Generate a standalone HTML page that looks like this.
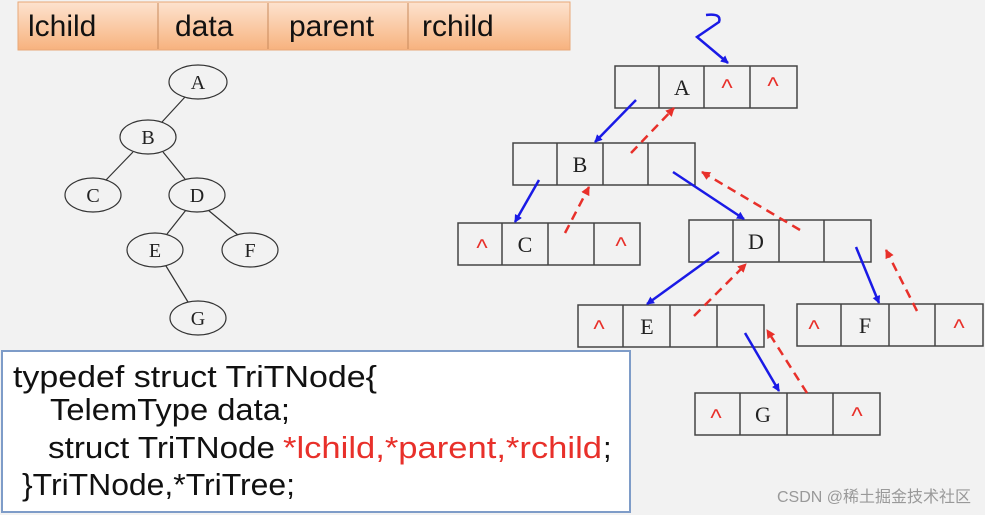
<!DOCTYPE html>
<html><head><meta charset="utf-8"><style>
html,body{margin:0;padding:0;background:#f2f2f2;}
svg{display:block}
</style></head><body>
<svg width="985" height="515" viewBox="0 0 985 515" xmlns="http://www.w3.org/2000/svg">
<defs>
<linearGradient id="og" x1="0" y1="0" x2="0" y2="1">
<stop offset="0" stop-color="#fde3cf"/><stop offset="1" stop-color="#f7b27e"/>
</linearGradient>
<marker id="ab" markerWidth="8" markerHeight="8" refX="7" refY="4" orient="auto" markerUnits="userSpaceOnUse"><path d="M0,0 L8,4 L0,8 z" fill="#1a1ae6"/></marker>
<marker id="ar" markerWidth="9" markerHeight="9" refX="8" refY="4.5" orient="auto" markerUnits="userSpaceOnUse"><path d="M0,0 L9,4.5 L0,9 z" fill="#e8302a"/></marker>
</defs>
<rect width="985" height="515" fill="#f2f2f2"/>
<!-- header bar -->
<rect x="18" y="2" width="552" height="48" fill="url(#og)" stroke="#e8a878" stroke-width="1"/>
<g stroke="#c98a5c" stroke-width="1"><line x1="158" y1="3" x2="158" y2="49"/><line x1="268" y1="3" x2="268" y2="49"/><line x1="408" y1="3" x2="408" y2="49"/></g>
<g font-family="Liberation Sans, sans-serif" font-size="30" fill="#111">
<text x="28" y="36">lchild</text><text x="175" y="36">data</text><text x="289" y="36">parent</text><text x="422" y="36">rchild</text>
</g>
<!-- left tree -->
<g stroke="#333" stroke-width="1.2">
<line x1="185" y1="97" x2="162" y2="122"/>
<line x1="133" y1="152" x2="106" y2="180"/>
<line x1="163" y1="152" x2="185" y2="179"/>
<line x1="186" y1="210" x2="167" y2="234"/>
<line x1="208" y1="210" x2="238" y2="235"/>
<line x1="166" y1="266" x2="188" y2="302"/>
</g>
<g fill="#f2f2f2" stroke="#333" stroke-width="1.2">
<ellipse cx="198" cy="82" rx="29" ry="17"/>
<ellipse cx="148" cy="137" rx="28" ry="17"/>
<ellipse cx="93" cy="195" rx="28" ry="17"/>
<ellipse cx="197" cy="195" rx="28" ry="17"/>
<ellipse cx="155" cy="250" rx="28" ry="17"/>
<ellipse cx="250" cy="250" rx="28" ry="17"/>
<ellipse cx="198" cy="318" rx="28" ry="17"/>
</g>
<g font-family="Liberation Serif, serif" font-size="20" fill="#222" text-anchor="middle">
<text x="198" y="89">A</text><text x="148" y="144">B</text><text x="93" y="202">C</text><text x="197" y="202">D</text><text x="155" y="257">E</text><text x="250" y="257">F</text><text x="198" y="325">G</text>
</g>
<!-- node boxes -->
<g fill="none" stroke="#444" stroke-width="1.5">
<rect x="615" y="66" width="182" height="42"/><path d="M659,66V108M704,66V108M750,66V108"/>
<rect x="513" y="143" width="182" height="42"/><path d="M557,143V185M603,143V185M648,143V185"/>
<rect x="458" y="223" width="182" height="42"/><path d="M502,223V265M548,223V265M594,223V265"/>
<rect x="689" y="220" width="182" height="42"/><path d="M733,220V262M779,220V262M824,220V262"/>
<rect x="578" y="305" width="186" height="42"/><path d="M623,305V347M670,305V347M717,305V347"/>
<rect x="797" y="304" width="186" height="42"/><path d="M841,304V346M889,304V346M935,304V346"/>
<rect x="695" y="393" width="185" height="42"/><path d="M740,393V435M787,393V435M833,393V435"/>
</g>
<g font-family="Liberation Serif, serif" font-size="22" fill="#222" text-anchor="middle">
<text x="682" y="95">A</text><text x="580" y="172">B</text><text x="525" y="252">C</text><text x="756" y="249">D</text><text x="647" y="334">E</text><text x="865" y="333">F</text><text x="763" y="422">G</text>
</g>
<g font-family="Liberation Sans, sans-serif" font-size="24" fill="#e8302a" text-anchor="middle">
<text x="727" y="96">^</text><text x="773" y="94">^</text>
<text x="482" y="256">^</text><text x="621" y="254">^</text>
<text x="599" y="337">^</text>
<text x="814" y="337">^</text><text x="959" y="336">^</text>
<text x="716" y="426">^</text><text x="857" y="424">^</text>
</g>
<!-- blue arrows -->
<g stroke="#1a1ae6" stroke-width="2.5" fill="none" marker-end="url(#ab)">
<path d="M706,15 Q722,13 719,22 L697,37 L728,63"/>
<line x1="636" y1="100" x2="595" y2="142"/>
<line x1="539" y1="180" x2="515" y2="222"/>
<line x1="673" y1="172" x2="744" y2="219"/>
<line x1="719" y1="252" x2="647" y2="304"/>
<line x1="856" y1="247" x2="879" y2="303"/>
<line x1="745" y1="333" x2="779" y2="391"/>
</g>
<!-- red dashed arrows -->
<g stroke="#e8302a" stroke-width="2.5" fill="none" stroke-dasharray="9,6" marker-end="url(#ar)">
<line x1="631" y1="153" x2="674" y2="108"/>
<line x1="565" y1="233" x2="589" y2="187"/>
<line x1="800" y1="230" x2="702" y2="172"/>
<line x1="694" y1="316" x2="746" y2="264"/>
<line x1="917" y1="311" x2="886" y2="250"/>
<line x1="807" y1="393" x2="767" y2="330"/>
</g>
<!-- code box -->
<rect x="2" y="351" width="628" height="161" fill="#fff" stroke="#7e9cc8" stroke-width="2"/>
<g font-family="Liberation Sans, sans-serif" font-size="31" fill="#111">
<text x="13" y="387" textLength="364" lengthAdjust="spacingAndGlyphs">typedef struct TriTNode{</text>
<text x="50" y="420" textLength="240" lengthAdjust="spacingAndGlyphs">TelemType data;</text>
<text x="48" y="458" textLength="227" lengthAdjust="spacingAndGlyphs">struct TriTNode</text>
<text x="283" y="458" fill="#e8302a" textLength="319" lengthAdjust="spacingAndGlyphs">*lchild,*parent,*rchild</text>
<text x="603" y="458">;</text>
<text x="22" y="495" textLength="273" lengthAdjust="spacingAndGlyphs">}TriTNode,*TriTree;</text>
</g>
<text x="777" y="502" font-family="Liberation Sans, 'Noto Sans CJK SC', sans-serif" font-size="16" fill="#999">CSDN @稀土掘金技术社区</text>
</svg>
</body></html>
